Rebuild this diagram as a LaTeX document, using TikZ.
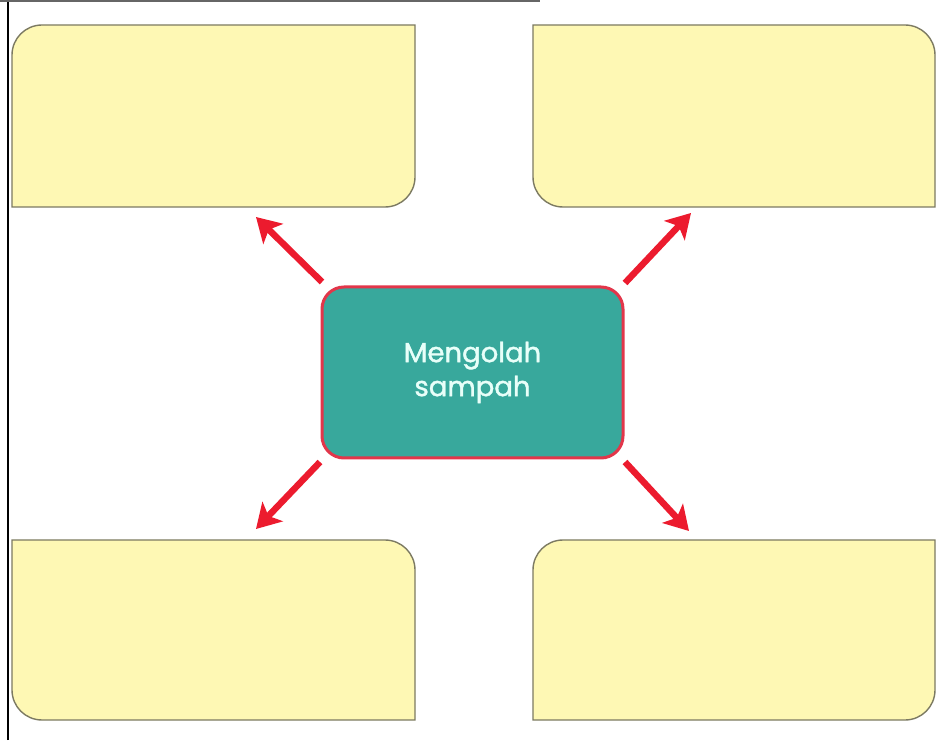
\documentclass[tikz,border=0pt]{standalone}
\usepackage{fontspec}
\setmainfont{Poppins}
\newfontfamily\labelfont{Poppins}[UprightFeatures={FakeBold=1.4}]
\usetikzlibrary{arrows.meta}
\definecolor{boxfill}{HTML}{FEF8B4}
\definecolor{boxline}{HTML}{7C7A62}
\definecolor{tealfill}{HTML}{38A89C}
\definecolor{redline}{HTML}{E2364A}
\definecolor{arrred}{HTML}{EC1B2E}
\definecolor{txtc}{HTML}{E8FFF9}
\begin{document}
\begin{tikzpicture}[x=1pt,y=1pt,
  yellowbox/.style={fill=boxfill,draw=boxline,line width=1.4pt},
  centerbox/.style={fill=tealfill,draw=redline,line width=3pt,rounded corners=22pt,
    minimum width=301pt,minimum height=171pt,inner sep=0pt,
    text=txtc,font=\labelfont\fontsize{27.5}{34}\selectfont,align=center},
  arr/.style={draw=arrred,line width=6.5pt,-{Stealth[length=24pt,width=28pt,inset=6pt]}}]
\useasboundingbox (0,0) rectangle (938,740);
\fill[white] (0,0) rectangle (938,740);
% frame
\draw[black,line width=1.6pt] (8,0) -- (8,740);
\draw[black!60,line width=2pt] (0,739) -- (540,739);
% yellow boxes
\def\r{30}
\path[yellowbox] (12,533) -- (12,715-\r) arc[start angle=180,end angle=90,radius=\r] -- (415,715) -- (415,533+\r) arc[start angle=0,end angle=-90,radius=\r] -- cycle;
\path[yellowbox] (533,715) -- (935-\r,715) arc[start angle=90,end angle=0,radius=\r] -- (935,533) -- (533+\r,533) arc[start angle=270,end angle=180,radius=\r] -- cycle;
\path[yellowbox] (12,200) -- (415-\r,200) arc[start angle=90,end angle=0,radius=\r] -- (415,20) -- (12+\r,20) arc[start angle=270,end angle=180,radius=\r] -- cycle;
\path[yellowbox] (533,20) -- (533,200-\r) arc[start angle=180,end angle=90,radius=\r] -- (935,200) -- (935,20+\r) arc[start angle=0,end angle=-90,radius=\r] -- cycle;
% center
\node[centerbox] (c) at (472.5,367.5) {Mengolah\\sampah};
% arrow ends
\coordinate (tlA) at (322,458); \coordinate (tlB) at (256,523);
\coordinate (trA) at (625,457); \coordinate (trB) at (691,527);
\coordinate (blA) at (320,278); \coordinate (blB) at (256,211);
\coordinate (brA) at (625,278); \coordinate (brB) at (689,209);
\draw[arr] (tlA) -- (tlB);
\draw[arr] (trA) -- (trB);
\draw[arr] (blA) -- (blB);
\draw[arr] (brA) -- (brB);
\end{tikzpicture}
\end{document}
